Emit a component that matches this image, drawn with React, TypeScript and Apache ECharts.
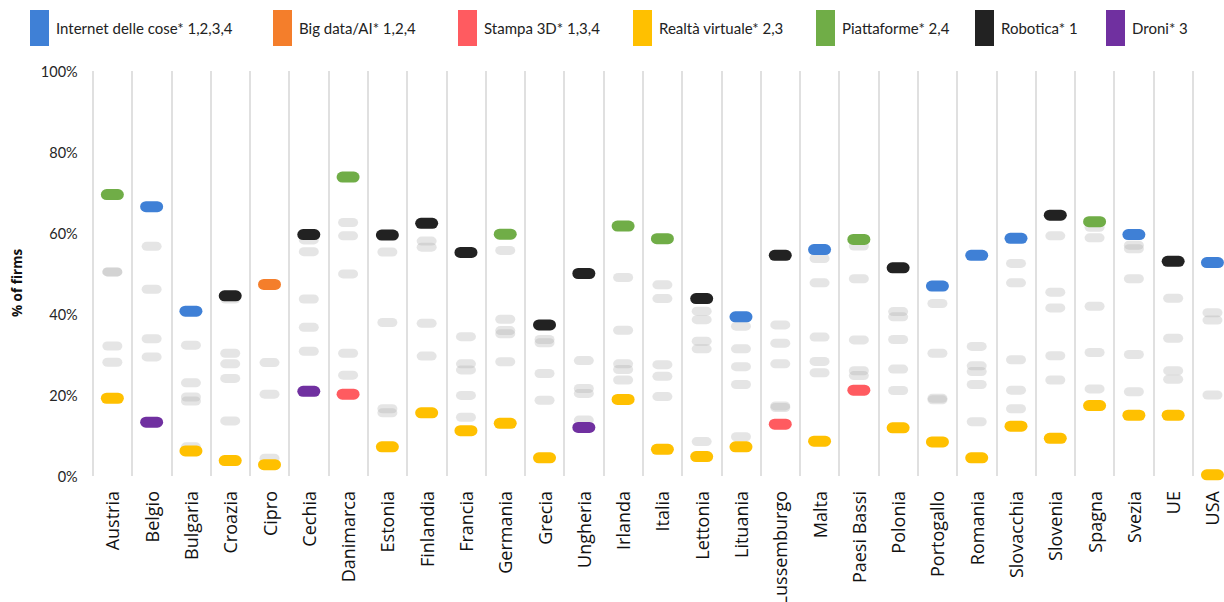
import React, { useEffect, useRef } from "react";
import * as echarts from "echarts";

const categories = [
  "Austria", "Belgio", "Bulgaria", "Croazia", "Cipro", "Cechia", "Danimarca", "Estonia",
  "Finlandia", "Francia", "Germania", "Grecia", "Ungheria", "Irlanda", "Italia", "Lettonia",
  "Lituania", "Lussemburgo", "Malta", "Paesi Bassi", "Polonia", "Portogallo", "Romania",
  "Slovacchia", "Slovenia", "Spagna", "Svezia", "UE", "USA",
];

const internetDelleCose = [50.4, 66.5, 40.7, 43.7, 28.0, 58.3, 62.6, 55.3, 58.0, 34.4, 38.7, 33.7, 28.5, 49.0, 43.8, 40.7, 39.3, 37.3, 55.9, 48.7, 40.6, 46.9, 54.5, 58.7, 59.3, 58.8, 59.6, 43.9, 52.7];
const bigDataAI = [32.1, 33.9, 23.0, 27.7, 47.3, 43.7, 49.9, 16.6, 37.7, 26.2, 35.9, 25.3, 20.4, 27.7, 27.5, 33.3, 27.0, 27.7, 34.3, 33.6, 33.7, 19.2, 25.8, 28.7, 41.5, 41.9, 48.7, 26.0, 40.3];
const stampa3D = [28.1, 29.4, 7.2, 13.6, 4.4, 36.7, 20.2, 15.6, 29.6, 14.5, 35.1, 18.7, null, 26.3, 24.6, 31.4, 22.6, 12.8, 28.3, 21.2, 26.4, 18.8, 13.4, 21.2, 29.7, 30.5, 30.0, 23.9, 20.0];
const realtaVirtuale = [19.2, null, 6.2, 3.8, 2.8, 30.8, 24.9, 7.2, 15.6, 11.2, 13.0, 4.5, 13.8, 18.9, 6.6, 4.8, 7.2, 17.3, 8.6, 26.0, 11.9, 8.4, 4.5, 12.3, 9.3, 17.4, 15.0, 15.0, 0.3];
const piattaforme = [69.5, 46.1, 32.3, 30.3, 20.2, 55.4, 73.8, 37.9, 56.5, 27.7, 59.7, 32.9, 21.6, 61.7, 58.6, 38.6, 31.4, 32.8, 47.7, 58.4, 39.3, 30.3, 27.2, 47.7, 45.4, 62.8, 56.1, 34.0, 38.5];
const robotica = [50.4, 56.7, 19.5, 44.5, null, 59.6, 59.3, 59.5, 62.4, 55.2, 55.7, 37.3, 50.0, 36.0, 47.2, 43.8, 37.0, 54.5, 53.7, 56.8, 51.4, 42.6, 32.0, 52.5, 64.4, 61.4, 57.0, 53.0, null];
const droni = [null, 13.3, 18.5, 24.1, null, 20.9, 30.3, null, null, 19.9, 28.2, null, 12.0, 23.7, 19.6, 8.5, 9.7, 16.9, 25.5, 24.8, 21.1, null, 22.6, 16.6, 23.7, 21.5, 20.8, null, null];

const techNames = [
  "Internet delle cose* 1,2,3,4",
  "Big data/AI* 1,2,4",
  "Stampa 3D* 1,3,4",
  "Realtà virtuale* 2,3",
  "Piattaforme* 2,4",
  "Robotica* 1",
  "Droni* 3",
];
const techValues = [internetDelleCose, bigDataAI, stampa3D, realtaVirtuale, piattaforme, robotica, droni];
const techColors = ["#3F80D6", "#F47E2B", "#FF5B60", "#FFC000", "#70AD47", "#222222", "#7030A0"];

// layout-only settings
const legendLeft = [30, 273, 458, 633, 816, 975, 1106];
const legendTextShift = [-3, -3, -3, -1, -8, -4, -5];

const PILL = "path://M5,0L15,0A5,5,0,0,1,15,10L5,10A5,5,0,0,1,5,0Z";

export default function App() {
  const ref = useRef<HTMLDivElement>(null);

  useEffect(() => {
    document.body.style.margin = "0";
    if (!ref.current) return;
    const chart = echarts.init(ref.current, undefined, { renderer: "svg" });

    const maxs = categories.map((_, i) => {
      const vals = techValues.map((a) => a[i]).filter((v) => v != null) as number[];
      return Math.max(...vals);
    });
    const mins = categories.map((_, i) => {
      const vals = techValues.map((a) => a[i]).filter((v) => v != null) as number[];
      return Math.min(...vals);
    });

    const graySeries = techValues.map((arr, t) => ({
      name: techNames[t] + " (altri)",
      type: "scatter",
      symbol: PILL,
      symbolSize: [20, 9],
      z: 2,
      silent: true,
      itemStyle: { color: "rgba(170,170,170,0.3)", opacity: 1 },
      data: arr
        .map((v, i) => (v == null ? null : [i, v]))
        .filter((d) => d != null),
    }));

    const colorSeries = techValues.map((arr, t) => ({
      name: techNames[t],
      type: "scatter",
      symbol: PILL,
      symbolSize: [23, 11],
      z: 3,
      silent: true,
      itemStyle: { color: techColors[t], opacity: 1 },
      data: arr
        .map((v, i) => (v != null && (v === maxs[i] || v === mins[i]) ? [i, v] : null))
        .filter((d) => d != null),
    }));

    const legends = techNames.map((n, t) => ({
      data: [n],
      left: legendLeft[t],
      top: 10,
      padding: 0,
      icon: "rect",
      itemWidth: 19,
      itemHeight: 36,
      selectedMode: false,
      itemStyle: { opacity: 1 },
      textStyle: {
        fontFamily: "Lato",
        fontSize: 15,
        color: "#222",
        padding: [0, 0, -2 * legendTextShift[t], 2],
      },
    }));

    chart.setOption({
      animation: false,
      legend: legends,
      grid: {
        left: 92.7,
        top: 71,
        width: 1139.4,
        height: 405,
        containLabel: false,
        outerBoundsMode: "none",
      },
      xAxis: {
        type: "category",
        data: categories,
        boundaryGap: true,
        axisLine: { show: false },
        axisTick: { show: false },
        splitLine: { show: true, interval: 0, lineStyle: { color: "#d9d9d9", width: 1.6 } },
        axisLabel: {
          rotate: 90,
          interval: 0,
          margin: 15,
          fontFamily: "Open Sans",
          fontSize: 18,
          color: "#111",
        },
      },
      yAxis: {
        type: "value",
        min: 0,
        max: 100,
        interval: 20,
        axisLine: { show: false },
        axisTick: { show: false },
        splitLine: { show: false },
        axisLabel: {
          formatter: "{value}%",
          margin: 15,
          fontFamily: "Lato",
          fontSize: 14.5,
          color: "#262626",
        },
      },
      graphic: [
        {
          type: "text",
          x: 17,
          y: 283,
          rotation: Math.PI / 2,
          style: {
            text: "% of firms",
            fontFamily: "Open Sans",
            fontWeight: "bold",
            fontSize: 13.5,
            fill: "#111",
            textAlign: "center",
            textVerticalAlign: "middle",
          },
        },
      ],
      series: [...graySeries, ...colorSeries],
    });

    return () => chart.dispose();
  }, []);

  return <div ref={ref} style={{ width: 1224, height: 602 }} />;
}
